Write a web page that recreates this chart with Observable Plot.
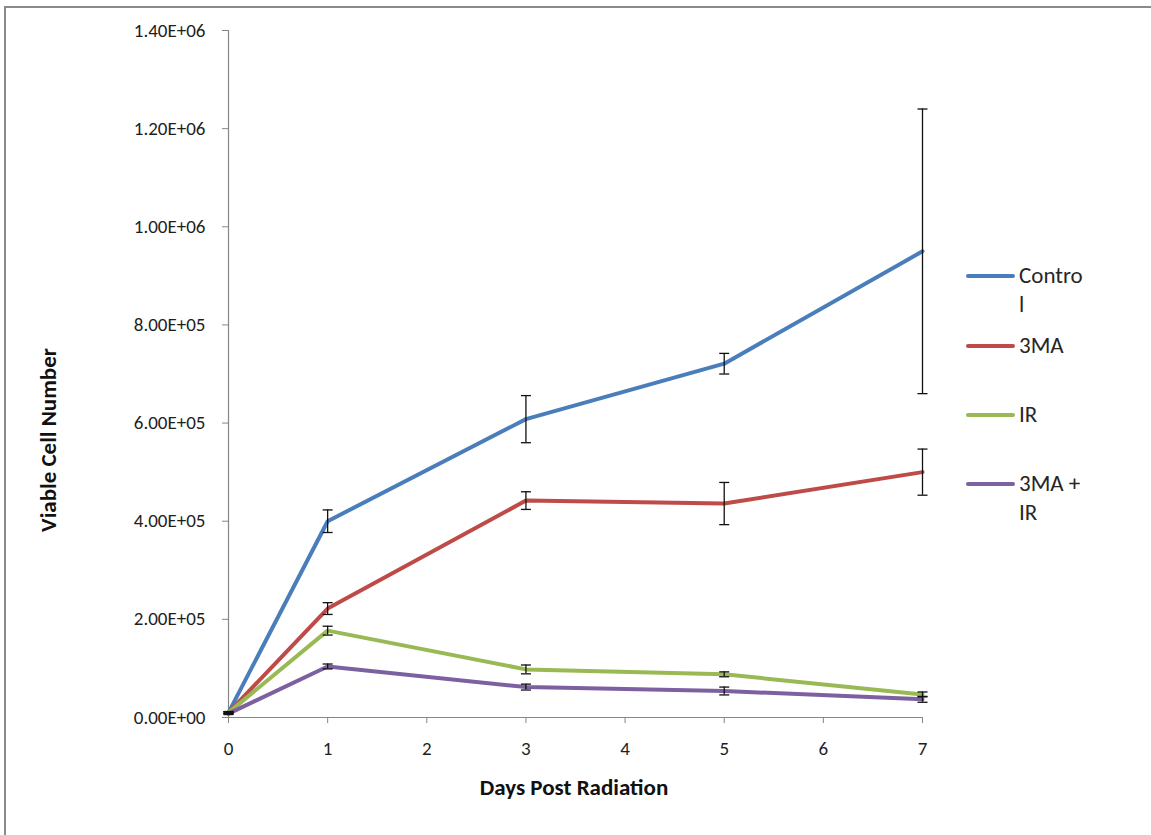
<!DOCTYPE html>
<html>
<head>
<meta charset="utf-8">
<script src="https://cdn.jsdelivr.net/npm/d3@7"></script>
<script src="https://cdn.jsdelivr.net/npm/@observablehq/plot@0.6"></script>
<style>
  html, body { margin: 0; padding: 0; background: #fff; }
  #wrap { position: relative; width: 1151px; height: 835px; overflow: hidden; font-family: Carlito, Calibri, Lato, "Liberation Sans", sans-serif; }
  #frame { position: absolute; left: 4px; top: 6px; width: 1200px; height: 900px; border-left: 2px solid #8a8a8a; border-top: 2px solid #8a8a8a; box-sizing: border-box; }
  #chart { position: absolute; left: 0; top: 0; }
  #legend { position: absolute; left: 966px; top: 0; font-size: 23px; color: #262626; }
  .item { position: absolute; left: 0; white-space: nowrap; }
  .sw { position: absolute; left: 0; width: 49px; height: 4px; border-radius: 2px; }
  .lab { position: absolute; left: 53px; line-height: 29px; white-space: nowrap; }
  .title { position: absolute; font-weight: bold; font-size: 23px; color: #111; white-space: nowrap; }
  #xtitle { left: 574px; top: 787px; transform: translate(-50%, -50%); }
  #ytitle { left: 48px; top: 440px; transform: translate(-50%, -50%) rotate(-90deg); }
</style>
</head>
<body>
<div id="wrap">
  <div id="frame"></div>
  <div id="chart"></div>
  <div id="legend"></div>
  <div id="xtitle" class="title"></div>
  <div id="ytitle" class="title"></div>
</div>
<script>
// ---- data ----
const days = [0, 1, 3, 5, 7];
const seriesNames = ["Control", "3MA", "IR", "3MA + IR"];
const seriesColors = ["#4A7EBB", "#BE4B48", "#98B954", "#7D60A0"];
const control    = [10000, 400000, 608000, 721000, 950000];
const controlErr = [2000, 23000, 48000, 21000, 290000];
const ma         = [10000, 222000, 442000, 436000, 500000];
const maErr      = [2000, 12000, 18000, 43000, 47000];
const ir         = [10000, 177000, 98000, 88000, 47000];
const irErr      = [2000, 9000, 9000, 5000, 5000];
const maIr       = [8000, 104000, 62000, 54000, 37000];
const maIrErr    = [2000, 5000, 6000, 8000, 6000];
const xTicks = [0, 1, 2, 3, 4, 5, 6, 7];
const yTicks = [0, 200000, 400000, 600000, 800000, 1000000, 1200000, 1400000];
const legendLabels = ["Contro\nl", "3MA", "IR", "3MA +\nIR"];
const xTitle = "Days Post Radiation";
const yTitle = "Viable Cell Number";

const values = [control, ma, ir, maIr];
const errs = [controlErr, maErr, irErr, maIrErr];
const rows = [];
values.forEach((vals, s) => {
  vals.forEach((v, i) => rows.push({series: seriesNames[s], day: days[i], value: v, err: errs[s][i]}));
});

const fmt = d => {
  if (d === 0) return "0.00E+00";
  const e = Math.floor(Math.log10(d));
  const m = d / Math.pow(10, e);
  return m.toFixed(2) + "E+" + String(e).padStart(2, "0");
};

const capSymbol = { draw(ctx, size) { ctx.moveTo(-5, 0); ctx.lineTo(5, 0); } };
const font = "Carlito, Calibri, Lato, 'Liberation Sans', sans-serif";

const chart = Plot.plot({
  width: 1151,
  height: 835,
  marginLeft: 228,
  marginRight: 229,
  marginTop: 30,
  marginBottom: 118,
  style: { fontFamily: font, fontSize: "19px", color: "#262626", background: "transparent" },
  x: { domain: [0, 7] },
  y: { domain: [0, 1400000] },
  color: { domain: seriesNames, range: seriesColors },
  marks: [
    Plot.ruleX([0], { y1: 0, y2: 1400000, stroke: "#868686", strokeWidth: 1.2 }),
    Plot.ruleY([0], { stroke: "#868686", strokeWidth: 1.2 }),
    Plot.axisY({ ticks: yTicks, tickFormat: fmt, tickSize: 6, tickPadding: 17, stroke: "#868686", fill: "#1e1e1e", fontSize: 19, label: null }),
    Plot.axisX({ ticks: xTicks, tickFormat: d => String(d), tickSize: 6, tickPadding: 18, stroke: "#868686", fill: "#1e1e1e", fontSize: 19, label: null }),
    Plot.line(rows, { x: "day", y: "value", z: "series", stroke: "series", strokeWidth: 4, strokeLinejoin: "round", strokeLinecap: "round" }),
    Plot.ruleX(rows, { x: "day", y1: d => d.value - d.err, y2: d => d.value + d.err, stroke: "#111", strokeWidth: 1.3 }),
    Plot.dot(rows, { x: "day", y: d => d.value - d.err, symbol: capSymbol, stroke: "#111", strokeWidth: 1.3, r: 5 }),
    Plot.dot(rows, { x: "day", y: d => d.value + d.err, symbol: capSymbol, stroke: "#111", strokeWidth: 1.3, r: 5 })
  ]
});
document.getElementById("chart").appendChild(chart);
document.getElementById("xtitle").textContent = xTitle;
document.getElementById("ytitle").textContent = yTitle;

// legend
const legendY = [276, 346, 415, 484];
const legend = document.getElementById("legend");
seriesNames.forEach((name, i) => {
  const item = document.createElement("div");
  item.className = "item";
  item.style.top = (legendY[i] - 2) + "px";
  const sw = document.createElement("div");
  sw.className = "sw";
  sw.style.background = seriesColors[i];
  const lab = document.createElement("div");
  lab.className = "lab";
  lab.style.top = "-13px";
  lab.innerHTML = legendLabels[i].split("\n").join("<br>");
  item.appendChild(sw);
  item.appendChild(lab);
  legend.appendChild(item);
});
</script>
</body>
</html>
